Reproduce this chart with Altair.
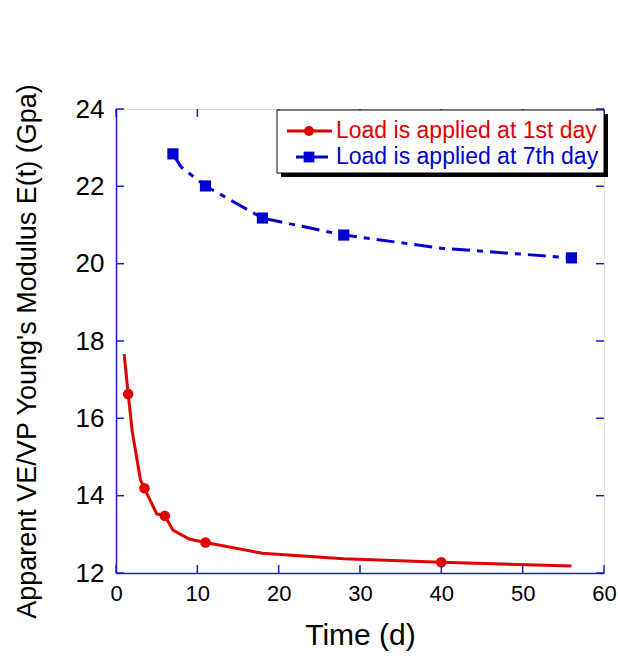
import altair as alt
import pandas as pd

# ---- data ----
red_line_x = [1, 1.5, 2, 3, 3.5, 5, 6, 7, 9, 11, 18, 28, 40, 56]
red_line_y = [17.66, 16.63, 15.66, 14.41, 14.19, 13.53, 13.48, 13.11, 12.88, 12.79, 12.51, 12.37, 12.28, 12.18]
red_mark_x = [1.5, 3.5, 6, 11, 40]
red_mark_y = [16.63, 14.19, 13.48, 12.79, 12.28]

blue_line_x = [7, 8, 11, 18, 28, 40, 56]
blue_line_y = [22.84, 22.50, 22.01, 21.18, 20.74, 20.40, 20.15]
blue_mark_x = [7, 11, 18, 28, 56]
blue_mark_y = [22.84, 22.01, 21.18, 20.74, 20.15]

x_ticks = [0, 10, 20, 30, 40, 50, 60]
y_ticks = [12, 14, 16, 18, 20, 22, 24]

legend_labels = ["Load is applied at 1st day", "Load is applied at 7th day"]

RED = "#e00000"
BLUE = "#0000d0"
AX_DARK = "#1a1ae0"
AX_LIGHT = "#7070e8"
FONT = "Liberation Sans"
W, H = 488, 464

xs = alt.Scale(domain=[0, 60], nice=False, zero=False)
ys = alt.Scale(domain=[12, 24], nice=False, zero=False)

xaxis = alt.Axis(values=x_ticks, title="Time (d)", labelFontSize=22, labelPadding=10,
                 labelFlush=False, ticks=False, domain=True, domainColor=AX_DARK,
                 domainWidth=1.5, grid=False, labelColor="black", labelFont=FONT,
                 titleFont=FONT, titleFontSize=30, titleFontWeight="normal",
                 titleColor="black", titlePadding=16)
yaxis = alt.Axis(values=y_ticks, title="Apparent VE/VP Young's Modulus E(t) (Gpa)",
                 labelFontSize=26, labelPadding=12, labelFlush=False, ticks=False,
                 domain=True, domainColor=AX_DARK, domainWidth=1.5, grid=False,
                 labelColor="black", labelFont=FONT, titleFont=FONT, titleFontSize=27,
                 titleFontWeight="normal", titleColor="black", titlePadding=34,
                 titleY=242)


def X(f):
    return alt.X(f, type="quantitative", scale=xs, axis=xaxis)


def Y(f):
    return alt.Y(f, type="quantitative", scale=ys, axis=yaxis)


df_rl = pd.DataFrame({"x": red_line_x, "y": red_line_y})
df_rm = pd.DataFrame({"x": red_mark_x, "y": red_mark_y})
df_bl = pd.DataFrame({"x": blue_line_x, "y": blue_line_y})
df_bm = pd.DataFrame({"x": blue_mark_x, "y": blue_mark_y})
df_xt = pd.DataFrame({"x": x_ticks})
df_yt = pd.DataFrame({"y": y_ticks})
one = pd.DataFrame({"a": [0]})

red_line = alt.Chart(df_rl).mark_line(color=RED, strokeWidth=3).encode(x=X("x"), y=Y("y"))
red_pts = alt.Chart(df_rm).mark_point(shape="circle", filled=True, size=110, color=RED, opacity=1).encode(x=X("x"), y=Y("y"))
blue_line = alt.Chart(df_bl).mark_line(color=BLUE, strokeWidth=3, strokeDash=[18, 7, 6, 7]).encode(x=X("x"), y=Y("y"))
blue_pts = alt.Chart(df_bm).mark_point(shape="square", filled=True, size=125, color=BLUE, opacity=1).encode(x=X("x"), y=Y("y"))

tb = alt.Chart(df_xt).mark_rule(color=AX_DARK, strokeWidth=1.5).encode(x=X("x"), y=alt.value(H), y2=alt.value(H - 8))
tt = alt.Chart(df_xt).mark_rule(color=AX_DARK, strokeWidth=1.5).encode(x=X("x"), y=alt.value(0), y2=alt.value(8))
tl = alt.Chart(df_yt).mark_rule(color=AX_DARK, strokeWidth=1.5).encode(y=Y("y"), x=alt.value(0), x2=alt.value(8))
tr = alt.Chart(df_yt).mark_rule(color=AX_DARK, strokeWidth=1.5).encode(y=Y("y"), x=alt.value(W - 8), x2=alt.value(W))

# legend (decoration)
shadow = alt.Chart(one).mark_rect(fill="black").encode(x=alt.value(165), x2=alt.value(492), y=alt.value(5), y2=alt.value(68))
box = alt.Chart(one).mark_rect(fill="white", stroke="black", strokeWidth=1).encode(x=alt.value(161), x2=alt.value(488), y=alt.value(1), y2=alt.value(64))
l1 = alt.Chart(one).mark_rule(color=RED, strokeWidth=3).encode(x=alt.value(171), x2=alt.value(216), y=alt.value(22))
p1 = alt.Chart(one).mark_point(shape="circle", filled=True, size=100, color=RED, opacity=1).encode(x=alt.value(193), y=alt.value(22))
t1 = alt.Chart(one).mark_text(text=legend_labels[0], color=RED, font=FONT, fontSize=23, align="left", baseline="middle").encode(x=alt.value(220), y=alt.value(22))
l2 = alt.Chart(one).mark_rule(color=BLUE, strokeWidth=3).encode(x=alt.value(180), x2=alt.value(212), y=alt.value(48))
p2 = alt.Chart(one).mark_point(shape="square", filled=True, size=115, color=BLUE, opacity=1).encode(x=alt.value(193), y=alt.value(48))
t2 = alt.Chart(one).mark_text(text=legend_labels[1], color=BLUE, font=FONT, fontSize=23, align="left", baseline="middle").encode(x=alt.value(220), y=alt.value(48))

chart = alt.layer(
    red_line, red_pts, blue_line, blue_pts, tb, tt, tl, tr,
    shadow, box, l1, p1, t1, l2, p2, t2
).properties(
    width=W, height=H,
    autosize=alt.AutoSizeParams(type="none"),
    padding={"left": 116, "top": 109, "right": 14, "bottom": 83},
).configure_view(
    stroke=AX_LIGHT, strokeWidth=1.5
).configure(background="white")

chart.save("out.html", embed_options={"renderer": "svg", "actions": False})
